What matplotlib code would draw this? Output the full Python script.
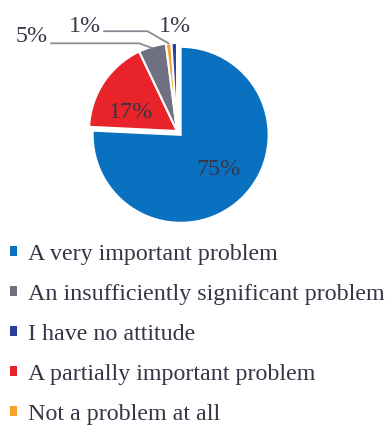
import matplotlib
matplotlib.use("Agg")
import matplotlib.pyplot as plt
import numpy as np

# Data (pie order, clockwise from 12 o'clock)
categories = ["A very important problem", "A partially important problem",
              "An insufficiently significant problem", "Not a problem at all",
              "I have no attitude"]
values = [75, 17, 5, 1, 1]
colors = ["#0A70C0", "#E8232A", "#6F7080", "#F7A12B", "#2A3D9C"]
legend_order = ["A very important problem", "An insufficiently significant problem",
                "I have no attitude", "A partially important problem",
                "Not a problem at all"]
pct_labels = ["75%", "17%", "5%", "1%", "1%"]

W, H = 387, 425
fig = plt.figure(figsize=(W / 100, H / 100), dpi=100)
plt.rcParams['font.family'] = ['Liberation Serif', 'DejaVu Serif']

R = 88.0          # pixels per data unit (pie radius)
cx, cy = 177, 131  # pie center in pixels (from top-left)
ax = fig.add_axes([0, 0, 1, 1])

explode = [0.06, 0, 0, 0, 0]
wedges, _ = ax.pie(values, colors=colors, startangle=90, counterclock=False,
                   explode=explode, radius=1.0,
                   wedgeprops=dict(edgecolor="white", linewidth=1.5))
ax.set_aspect("auto")
ax.set_xlim(-cx / R, (W - cx) / R)
ax.set_ylim(-(H - cy) / R, cy / R)
ax.axis("off")

txtc = "#363646"
fs = 17.3

def px(x, y):
    return ((x - cx) / R, (cy - y) / R)

def edge_point(i, r=1.0):
    w = wedges[i]
    ang = np.deg2rad((w.theta1 + w.theta2) / 2)
    ox, oy = w.center
    return (ox + r * np.cos(ang), oy + r * np.sin(ang))

# inside labels
ax.text(*px(218, 170), pct_labels[0], ha="center", va="center",
        fontsize=fs, color=txtc)
ax.text(*px(131, 113), pct_labels[1], ha="center", va="center",
        fontsize=fs, color=txtc)

lc = "#8A8A95"
# 5% label
ax.annotate(pct_labels[2], xy=edge_point(2, 0.98), xytext=px(32, 37),
            ha="center", va="center", fontsize=fs, color=txtc,
            arrowprops=dict(arrowstyle="-", color=lc, lw=1.3,
                            shrinkA=0, shrinkB=0,
                            relpos=(1.0, 0.2),
                            connectionstyle="angle,angleA=0,angleB=160,rad=0"))
# 1% (orange)
ax.annotate(pct_labels[3], xy=edge_point(3, 1.0), xytext=px(85, 27),
            ha="center", va="center", fontsize=fs, color=txtc,
            arrowprops=dict(arrowstyle="-", color=lc, lw=1.3,
                            shrinkA=0, shrinkB=0,
                            relpos=(1.0, 0.3),
                            connectionstyle="angle,angleA=0,angleB=150,rad=0"))
# 1% (navy)
ax.text(*px(175, 27), pct_labels[4], ha="center", va="center",
        fontsize=fs, color=txtc)

# legend
handles = [wedges[categories.index(c)] for c in legend_order]
leg = fig.legend(handles, legend_order, loc="upper left",
                 bbox_to_anchor=(10 / W, 1 - 244 / H), frameon=False,
                 fontsize=fs, handlelength=0.28, handleheight=0.28,
                 handletextpad=0.45, labelspacing=0.79, borderaxespad=0,
                 borderpad=0)
for t in leg.get_texts():
    t.set_color(txtc)
for h in leg.legend_handles:
    h.set_edgecolor("none")

fig.savefig("out.png", dpi=100)
